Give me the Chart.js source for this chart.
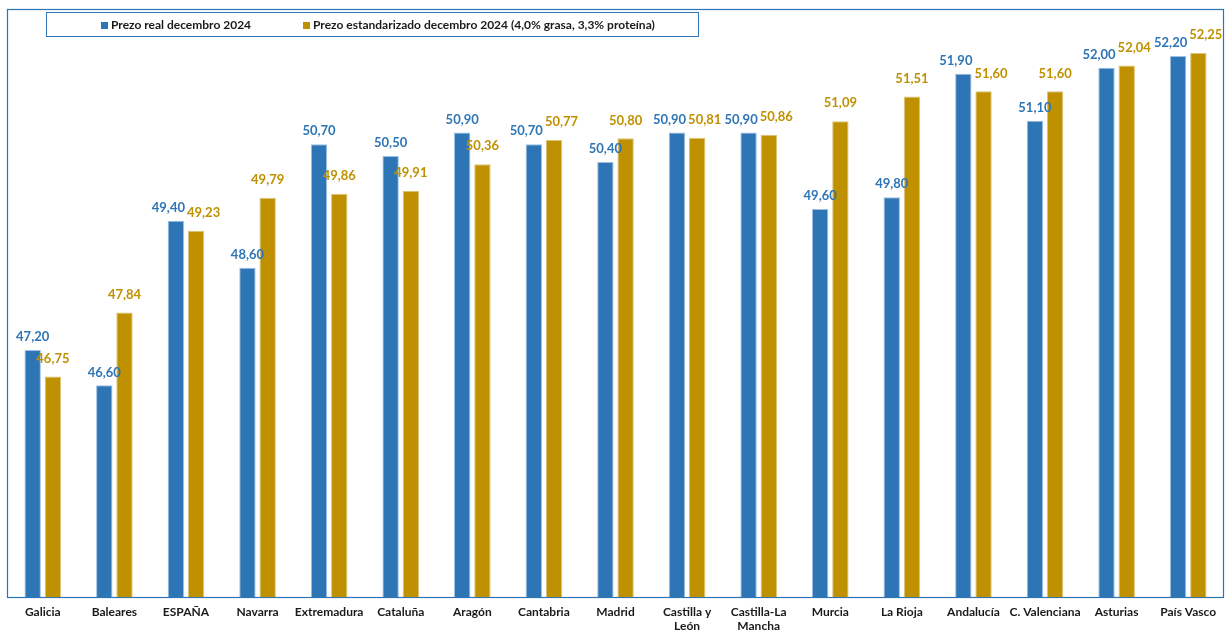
<!DOCTYPE html>
<html>
<head>
<meta charset="utf-8">
<script src="https://cdn.jsdelivr.net/npm/chart.js@4/dist/chart.umd.min.js"></script>
<style>
  html, body { margin: 0; padding: 0; background: #ffffff; }
  #wrap { width: 1227px; height: 631px; position: relative; }
</style>
</head>
<body>
<div id="wrap"><canvas id="c"></canvas></div>
<script>
const categories = [
  "Galicia", "Baleares", "ESPAÑA", "Navarra", "Extremadura", "Cataluña", "Aragón",
  "Cantabria", "Madrid", ["Castilla y", "León"], ["Castilla-La", "Mancha"], "Murcia",
  "La Rioja", "Andalucía", "C. Valenciana", "Asturias", "País Vasco"
];
const seriesNames = [
  "Prezo real decembro 2024",
  "Prezo estandarizado decembro 2024 (4,0% grasa, 3,3% proteína)"
];
const realPrice = [47.20, 46.60, 49.40, 48.60, 50.70, 50.50, 50.90, 50.70, 50.40, 50.90, 50.90, 49.60, 49.80, 51.90, 51.10, 52.00, 52.20];
const stdPrice  = [46.75, 47.84, 49.23, 49.79, 49.86, 49.91, 50.36, 50.77, 50.80, 50.81, 50.86, 51.09, 51.51, 51.60, 51.60, 52.04, 52.25];
const yMin = 43;
const yMax = 53;

const BLUE = "#2E75B6";
const GOLD = "#BF9000";
const FONT = "Lato, 'Liberation Sans', sans-serif";

const framePlugin = {
  id: "frame",
  beforeDatasetsDraw(chart) {
    const { ctx, chartArea: a } = chart;
    ctx.save();
    ctx.strokeStyle = BLUE;
    ctx.lineWidth = 1.2;
    ctx.strokeRect(Math.round(a.left) + 0.5, Math.round(a.top) + 0.5,
                   Math.round(a.right - a.left) - 1, Math.round(a.bottom - a.top));
    ctx.restore();
  }
};

const valueLabels = {
  id: "valueLabels",
  afterDatasetsDraw(chart) {
    const { ctx } = chart;
    ctx.save();
    ctx.font = "bold 13px " + FONT;
    ctx.textAlign = "center";
    ctx.textBaseline = "middle";
    const metas = [chart.getDatasetMeta(0), chart.getDatasetMeta(1)];
    const dss = chart.data.datasets;
    const n = dss[0].data.length;
    for (let j = 0; j < n; j++) {
      const items = [0, 1].map(i => {
        const bar = metas[i].data[j];
        const txt = dss[i].data[j].toFixed(2).replace(".", ",");
        return { txt, x: bar.x, y: bar.y - (i === 0 ? 13 : 18), w: ctx.measureText(txt).width, color: dss[i].labelColor };
      });
      const a = items[0], b = items[1];
      if (Math.abs(a.y - b.y) < 14) {
        const overlap = (a.x + a.w / 2) - (b.x - b.w / 2) + 2;
        if (overlap > 0) { a.x -= overlap / 2; b.x += overlap / 2; }
      }
      items.forEach(it => { ctx.fillStyle = it.color; ctx.fillText(it.txt, it.x, it.y); });
    }
    ctx.restore();
  }
};

const boxLegend = {
  id: "boxLegend",
  afterDraw(chart) {
    const { ctx } = chart;
    ctx.save();
    ctx.fillStyle = "#ffffff";
    ctx.fillRect(46, 12, 653, 25);
    ctx.strokeStyle = BLUE;
    ctx.lineWidth = 1;
    ctx.strokeRect(46.5, 12.5, 652, 24);
    ctx.font = "bold 12px " + FONT;
    ctx.textBaseline = "middle";
    ctx.textAlign = "left";
    const starts = [101, 303];
    chart.data.datasets.forEach((ds, i) => {
      ctx.fillStyle = ds.backgroundColor;
      ctx.fillRect(starts[i], 22, 7, 7);
      ctx.fillStyle = "#1a1a1a";
      ctx.fillText(ds.label, starts[i] + 10, 25);
    });
    ctx.restore();
  }
};

new Chart(document.getElementById("c"), {
  type: "bar",
  data: {
    labels: categories,
    datasets: [
      {
        label: seriesNames[0],
        data: realPrice,
        backgroundColor: BLUE,
        borderColor: "#9CBFE3",
        borderWidth: 1,
        labelColor: "#2E75B6",
        barPercentage: 0.81,
        categoryPercentage: 0.565
      },
      {
        label: seriesNames[1],
        data: stdPrice,
        backgroundColor: GOLD,
        borderColor: "#DCC37A",
        borderWidth: 1,
        labelColor: "#BF9000",
        barPercentage: 0.81,
        categoryPercentage: 0.565
      }
    ]
  },
  options: {
    responsive: true,
    maintainAspectRatio: false,
    animation: false,
    layout: { padding: { left: 7, right: 3, top: 9, bottom: 0 } },
    plugins: {
      legend: { display: false },
      tooltip: { enabled: false }
    },
    scales: {
      y: {
        display: false,
        min: yMin,
        max: yMax
      },
      x: {
        grid: { display: false, drawTicks: false },
        border: { display: false },
        ticks: {
          color: "#1a1a1a",
          font: { family: FONT, size: 12, weight: "bold", lineHeight: 1.2 },
          padding: 8,
          maxRotation: 0,
          autoSkip: false
        },
        afterFit(scale) { scale.height = 34; }
      }
    }
  },
  plugins: [framePlugin, valueLabels, boxLegend]
});
</script>
</body>
</html>
